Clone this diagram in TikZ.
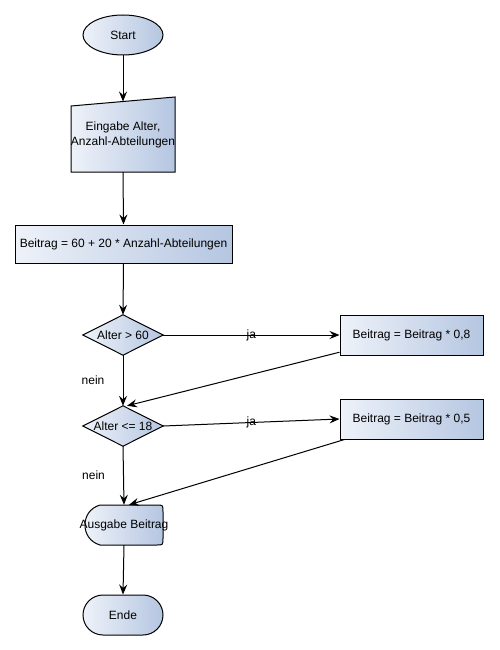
\documentclass[tikz,border=0pt]{standalone}
\usepackage{fontspec}
\setmainfont{Liberation Sans}
\usetikzlibrary{shapes.geometric,arrows.meta,calc,backgrounds}
\definecolor{gL}{HTML}{EEF2F9}
\definecolor{gR}{HTML}{B5C6E1}
\tikzset{
  shp/.style={draw=black, line width=1pt, left color=gL, right color=gR},
  lbl/.style={font=\fontsize{12}{15}\selectfont, align=center, inner sep=0pt},
  box/.style={lbl, rectangle, minimum width=#1, minimum height=40pt},
  flow/.style={draw=black, line width=1pt, -{Stealth[length=10pt,width=8pt,inset=3.5pt]}},
  txt/.style={font=\fontsize{12}{15}\selectfont, inner sep=0pt},
}
\begin{document}
\begin{tikzpicture}[x=1pt,y=-1pt]
\useasboundingbox (0,0) rectangle (499,650);
% nodes
\node[lbl, ellipse, shp, minimum width=80pt, minimum height=40pt] (start) at (123,35) {Start};
\node[box=104pt, minimum height=75pt] (mi) at (123,134.5) {Eingabe Alter,\\Anzahl-Abteilungen};
\coordinate (miTop) at (123,101.5);
\node[lbl, rectangle, shp, minimum width=217pt, minimum height=38pt] (calc) at (123.5,244) {Beitrag = 60 + 20 * Anzahl-Abteilungen};
\node[box=80pt] (d1) at (123,335) {Alter > 60};
\node[box=80pt] (d2) at (123,426) {Alter <= 18};
\node[lbl, rectangle, shp, minimum width=143pt, minimum height=40pt] (r1) at (411.5,335) {Beitrag = Beitrag * 0,8};
\node[lbl, rectangle, shp, minimum width=143pt, minimum height=40pt] (r2) at (411.5,419) {Beitrag = Beitrag * 0,5};
\node[box=78pt] (out) at (124,525) {Ausgabe Beitrag};
\node[lbl, rectangle, rounded corners=20pt, shp, minimum width=80pt, minimum height=40pt] (ende) at (123,615) {Ende};
% custom shapes behind text
\begin{pgfonlayer}{background}
  \path[shp] (71,106) -- (175,97) -- (175,172) -- (71,172) -- cycle;
  \path[shp] (d1.west) -- (d1.north) -- (d1.east) -- (d1.south) -- cycle;
  \path[shp] (d2.west) -- (d2.north) -- (d2.east) -- (d2.south) -- cycle;
  \path[shp] (100,505) -- (157,505) .. controls (163,505) .. (163,512) -- (163,538)
     .. controls (163,545) .. (157,545) -- (100,545)
     .. controls (90,542) and (85,534) .. (85,525)
     .. controls (85,516) and (90,508) .. (100,505) -- cycle;
\end{pgfonlayer}
% connectors
\draw[flow] (start.south) -- (miTop);
\draw[flow] (mi.south) -- (calc.north);
\draw[flow] (calc.south) -- (d1.north);
\draw[flow] (d1.east) -- node[txt] {ja} (r1.west);
\draw[flow] (d1.south) -- node[txt, pos=0.5, xshift=-30pt] {nein} (d2.north);
\draw[flow] ($(r1.south west)!0.08!(r1.north west)$) -- ($(d2.north)+(4,0)$);
\draw[flow] (d2.east) -- node[txt] {ja} (r2.west);
\draw[flow] (d2.south) -- node[txt, pos=0.5, xshift=-30pt] {nein} (out.north);
\draw[flow] ($(r2.south west)+(5,0)$) -- ($(out.north)+(5,0)$);
\draw[flow] (out.south) -- (ende.north);
\end{tikzpicture}
\end{document}
